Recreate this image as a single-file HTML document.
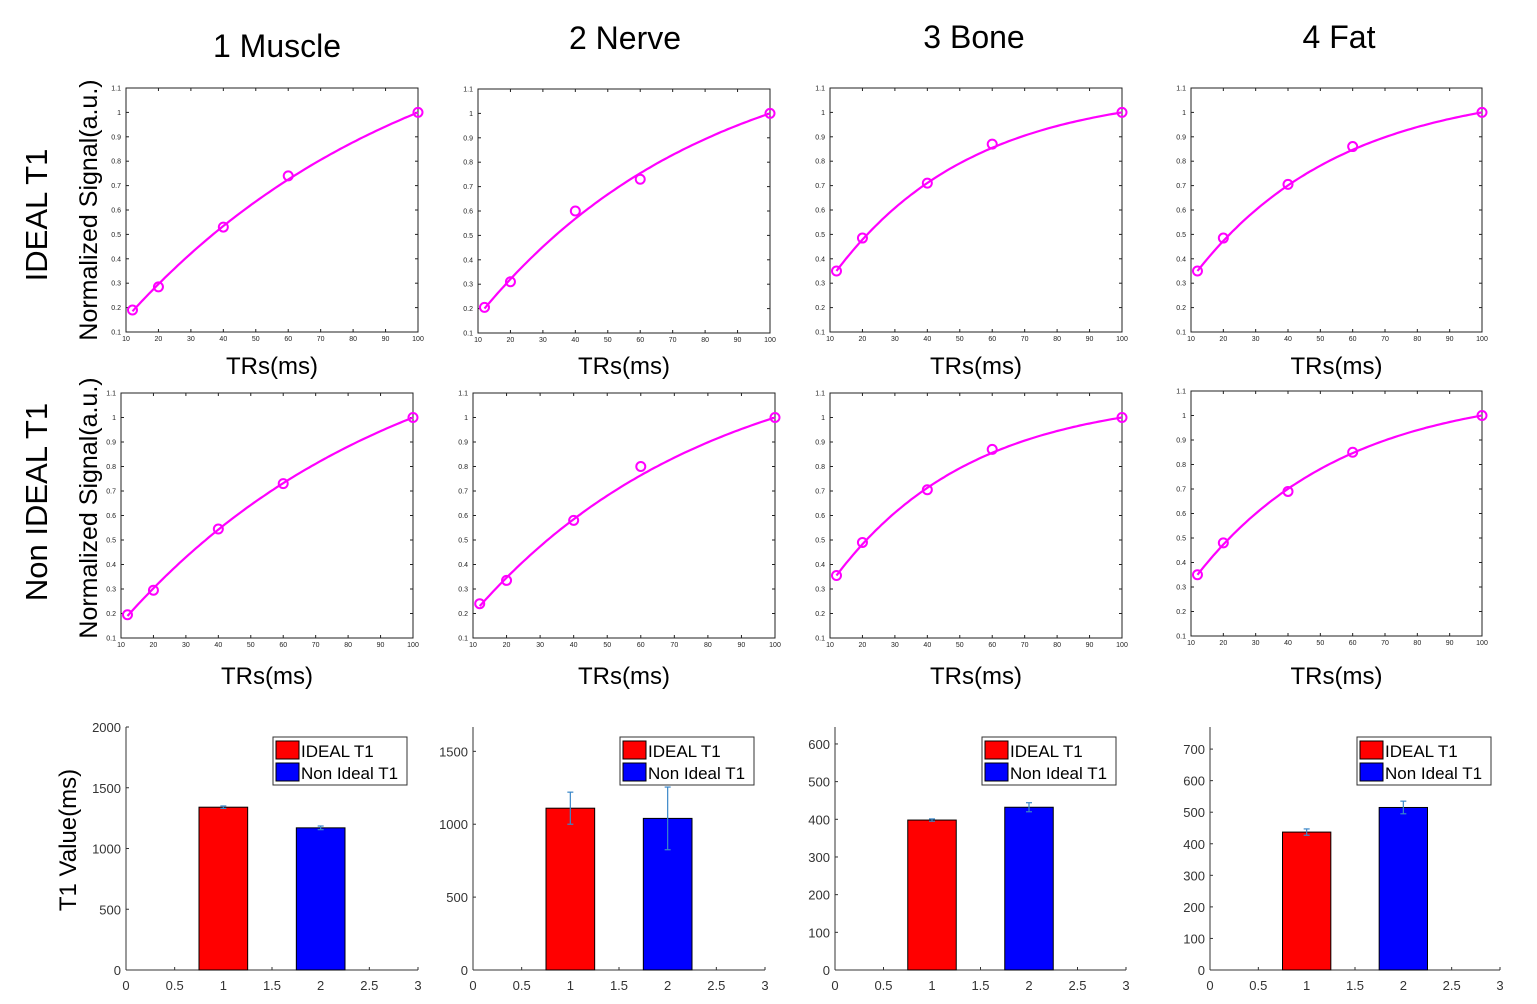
<!DOCTYPE html>
<html><head><meta charset="utf-8"><style>
body{margin:0;background:#fff;width:1537px;height:1004px;overflow:hidden;font-family:"Liberation Sans",sans-serif}
svg{position:absolute;left:0;top:0}
</style></head><body>
<svg id="fig" width="1537" height="1004" font-family="Liberation Sans, sans-serif">
<g font-size="32" text-anchor="middle" fill="#000">
<text x="277" y="57">1 Muscle</text>
<text x="625" y="49">2 Nerve</text>
<text x="974" y="48">3 Bone</text>
<text x="1339" y="48">4 Fat</text>
</g>
<text transform="translate(47,215) rotate(-90)" font-size="31" text-anchor="middle">IDEAL T1</text>
<text transform="translate(47,502) rotate(-90)" font-size="31" text-anchor="middle">Non IDEAL T1</text>
<text transform="translate(97,210) rotate(-90)" font-size="25" text-anchor="middle">Normalized Signal(a.u.)</text>
<text transform="translate(97,508) rotate(-90)" font-size="25" text-anchor="middle">Normalized Signal(a.u.)</text>
<text transform="translate(76,840) rotate(-90)" font-size="24" text-anchor="middle">T1 Value(ms)</text>
</svg>
<script>
const NS="http://www.w3.org/2000/svg";
const svg=document.getElementById('fig');
function mk(tag,attrs,parent){const e=document.createElementNS(NS,tag);for(const k in attrs)e.setAttribute(k,attrs[k]);(parent||svg).appendChild(e);return e;}

// ---- line chart data ----
const trValues=[12,20,40,60,100];
const muscleIdeal=[0.19,0.285,0.53,0.74,1.0];
const nerveIdeal=[0.205,0.31,0.60,0.73,1.0];
const boneIdeal=[0.35,0.485,0.71,0.87,1.0];
const fatIdeal=[0.35,0.485,0.705,0.86,1.0];
const muscleNon=[0.195,0.295,0.545,0.73,1.0];
const nerveNon=[0.24,0.335,0.58,0.80,1.0];
const boneNon=[0.355,0.49,0.705,0.87,1.0];
const fatNon=[0.35,0.48,0.69,0.85,1.0];
// fitted curve parameters: start value at TR=12, T1 (ms)
const fitStart=[0.185,0.2,0.35,0.35,0.19,0.23,0.355,0.35];
const fitT1=[90,70,42,45,85,70,42,45];
const xTicks=[10,20,30,40,50,60,70,80,90,100];
const yTicks=[0.1,0.2,0.3,0.4,0.5,0.6,0.7,0.8,0.9,1,1.1];

// ---- bar chart data ----
const barCategories=['IDEAL T1','Non Ideal T1'];
const barIdeal=[1340,1110,398,437];
const barNon=[1170,1040,432,515];
const errIdeal=[10,110,3,10];
const errNon=[15,215,12,20];
const barYMax=[2000,1667,645,770];
const barYTicks=[[0,500,1000,1500,2000],[0,500,1000,1500],[0,100,200,300,400,500,600],[0,100,200,300,400,500,600,700]];
const barXTicks=[0,0.5,1,1.5,2,2.5,3];

const lineSeries=[muscleIdeal,nerveIdeal,boneIdeal,fatIdeal,muscleNon,nerveNon,boneNon,fatNon];
const names=['muscle','nerve','bone','fat'];
const boxes=[[126,88,418,332],[478,89,770,333],[830,88,1122,332],[1191,88,1482,332],
[121,393,413,638],[473,393,775,638],[830,393,1122,638],[1191,391,1482,636]];

boxes.forEach((b,i)=>{
  const [x0,y0,x1,y1]=b;
  const g=mk('g',{});
  
  
  const sx=v=>x0+(v-10)/90*(x1-x0);
  const sy=v=>y1-(v-0.1)/1.0*(y1-y0);
  const r=mk('rect',{x:x0,y:y0,width:x1-x0,height:y1-y0,fill:'none',stroke:'#222','stroke-width':1},g);
  
  
  xTicks.forEach(t=>{const X=sx(t);
    mk('line',{x1:X,x2:X,y1:y1,y2:y1-3,stroke:'#222'},g);mk('line',{x1:X,x2:X,y1:y0,y2:y0+3,stroke:'#222'},g);
    const tx=mk('text',{x:X,y:y1+9,'font-size':7,'text-anchor':'middle',fill:'#222'},g);tx.textContent=t;
    
    });
  yTicks.forEach(t=>{const Y=sy(t);
    mk('line',{x1:x0,x2:x0+3,y1:Y,y2:Y,stroke:'#222'},g);mk('line',{x1:x1,x2:x1-3,y1:Y,y2:Y,stroke:'#222'},g);
    const tx=mk('text',{x:x0-5,y:Y+2.5,'font-size':7,'text-anchor':'end',fill:'#222'},g);tx.textContent=+t.toFixed(1);
    
    });
  const s0=fitStart[i],T=fitT1[i];let d='';
  for(let k=0;k<=88;k++){const tr=12+k;const f=(1-Math.exp(-(tr-12)/T))/(1-Math.exp(-88/T));const v=s0+(1-s0)*f;d+=(k?'L':'M')+sx(tr).toFixed(1)+','+sy(v).toFixed(1);}
  const p=mk('path',{d:d,fill:'none',stroke:'#f0f','stroke-width':2.2},g);
  
  
  lineSeries[i].forEach((v,j)=>{const c=mk('circle',{cx:sx(trValues[j]),cy:sy(v),r:4.5,fill:'none',stroke:'#f0f','stroke-width':2},g);
    
    });
  const lab=mk('text',{x:(x0+x1)/2,y:(i<4?374:684),'font-size':24,'text-anchor':'middle',fill:'#000'},g);lab.textContent='TRs(ms)';
  
  
});

const barBoxes=[[126,727,418,970,273],[473,727,765,970,620],[835,727,1126,970,982],[1210,727,1500,970,1357]];
barBoxes.forEach((b,i)=>{
  const [x0,y0,x1,y1,lx]=b;
  const g=mk('g',{});
  
  
  const sx=v=>x0+v/3*(x1-x0);
  const sy=v=>y1-v/barYMax[i]*(y1-y0);
  mk('line',{x1:x0,x2:x0,y1:y0,y2:y1,stroke:'#333'},g);
  mk('line',{x1:x0,x2:x1,y1:y1,y2:y1,stroke:'#333'},g);
  barXTicks.forEach(t=>{const X=sx(t);mk('line',{x1:X,x2:X,y1:y1,y2:y1-3,stroke:'#333'},g);
    const tx=mk('text',{x:X,y:y1+20,'font-size':13,'text-anchor':'middle',fill:'#333'},g);tx.textContent=t;
    
    });
  barYTicks[i].forEach(t=>{const Y=sy(t);mk('line',{x1:x0,x2:x0+3,y1:Y,y2:Y,stroke:'#333'},g);
    const tx=mk('text',{x:x0-5,y:Y+5,'font-size':13,'text-anchor':'end',fill:'#333'},g);tx.textContent=t;
    
    });
  [[1,barIdeal[i],errIdeal[i],'#f00','bar-ideal'],[2,barNon[i],errNon[i],'#00f','bar-non-ideal']].forEach(([c,v,e,col,nm])=>{
    const r=mk('rect',{x:sx(c-0.25),y:sy(v),width:sx(c+0.25)-sx(c-0.25),height:y1-sy(v),fill:col,stroke:'#000','stroke-width':1},g);
    
    
    const X=sx(c);
    mk('line',{x1:X,x2:X,y1:sy(v-e),y2:sy(v+e),stroke:'#3a87c8','stroke-width':1.2},g);
    mk('line',{x1:X-3,x2:X+3,y1:sy(v-e),y2:sy(v-e),stroke:'#3a87c8','stroke-width':1.2},g);
    mk('line',{x1:X-3,x2:X+3,y1:sy(v+e),y2:sy(v+e),stroke:'#3a87c8','stroke-width':1.2},g);
  });
  const lg=mk('g',{},g);
  
  
  mk('rect',{x:lx,y:737,width:134,height:48,fill:'#fff',stroke:'#333'},lg);
  barCategories.forEach((name,k)=>{
    mk('rect',{x:lx+3,y:741+k*22,width:23,height:18,fill:k?'#00f':'#f00',stroke:'#000'},lg);
    const t=mk('text',{x:lx+28,y:757+k*22,'font-size':17,fill:'#000'},lg);t.textContent=name;
    
    
  });
});
</script>
</body></html>
